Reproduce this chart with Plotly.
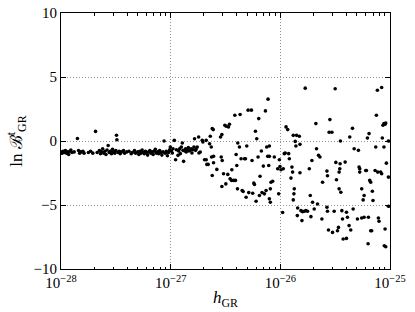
import plotly.graph_objects as go

# log10 of h_GR and ln B values
log10_h_low = [-28.00, -27.99, -27.98, -27.97, -27.96, -27.95, -27.94, -27.93, -27.92, -27.91,
               -27.90, -27.88, -27.85, -27.84, -27.83, -27.82, -27.80, -27.79, -27.75, -27.73,
               -27.71, -27.685, -27.67, -27.65, -27.64, -27.63, -27.62, -27.61, -27.60, -27.59,
               -27.58, -27.57, -27.56, -27.55, -27.54, -27.53, -27.52, -27.51, -27.50, -27.494,
               -27.49, -27.48, -27.47, -27.46, -27.45, -27.43, -27.42, -27.40, -27.38, -27.36,
               -27.35, -27.33, -27.32, -27.30, -27.29, -27.28, -27.27, -27.26, -27.25, -27.24,
               -27.23, -27.22, -27.21, -27.20, -27.19, -27.18, -27.17, -27.16, -27.15, -27.14,
               -27.13, -27.12, -27.11, -27.10, -27.09, -27.08, -27.07, -27.06, -27.05, -27.04,
               -27.03, -27.02]
lnB_low = [-0.85, -0.95, -0.80, -0.90, -0.75, -0.95, -0.85, -1.05, -0.80, -0.70,
           -0.90, -0.85, 0.20, -0.75, -0.95, -0.85, -0.80, -0.95, -0.90, -0.80,
           -0.95, 0.75, -0.90, -0.75, -1.00, -0.85, -0.60, -0.95, -0.80, -1.05,
           -0.70, -0.35, -0.90, -0.80, -1.00, -0.65, -0.85, -0.95, -0.75, 0.45,
           0.10, -0.90, -0.80, -1.00, -0.85, -0.75, -0.95, -0.85, -0.80, -1.00,
           -0.90, -0.75, -0.95, -0.85, -1.05, -0.80, -0.95, -0.70, -0.90, -1.00,
           -0.80, -0.90, -1.10, -0.85, -0.75, -0.95, -0.85, -1.05, -0.80, -0.65,
           -0.95, -0.85, -1.00, -0.75, -0.90, -1.10, -0.85, 0.00, -0.95, -0.80,
           -1.15, -0.90]

log10_h_mid = [-27.024, -27.009, -27.003, -26.994, -26.985, -26.979, -26.967, -26.955, -26.948, -26.933,
               -26.927, -26.918, -26.912, -26.903, -26.894, -26.888, -26.882, -26.870, -26.864, -26.858,
               -26.848, -26.839, -26.833, -26.821, -26.812, -26.806, -26.797, -26.788, -26.782, -26.773,
               -26.767, -26.758, -26.745, -26.742, -26.730, -26.712, -26.706, -26.691, -26.676, -26.676,
               -26.670, -26.658, -26.645, -26.639, -26.630, -26.627, -26.621, -26.612, -26.609, -26.609,
               -26.621, -26.579, -26.545, -26.539, -26.533, -26.530, -26.533, -26.518, -26.506, -26.494,
               -26.497, -26.479, -26.473, -26.464, -26.458, -26.442, -26.445, -26.427, -26.409, -26.415,
               -26.403, -26.397, -26.391, -26.388, -26.373, -26.367, -26.358, -26.348, -26.339, -26.327,
               -26.318, -26.312, -26.306, -26.294, -26.288, -26.264, -26.258, -26.252, -26.242, -26.236,
               -26.227, -26.221, -26.215, -26.203, -26.197, -26.191, -26.185, -26.173, -26.167, -26.155,
               -26.145, -26.136, -26.130, -26.124, -26.115, -26.112, -26.106, -26.100]
lnB_mid = [-0.86, -0.68, -0.47, -0.78, -0.94, -0.60, 0.05, -1.46, -0.68, -1.12,
           -0.78, -0.60, -0.99, -0.47, -0.16, -0.73, -1.59, -0.78, -0.60, -0.86,
           -0.68, -0.52, -0.78, -0.73, -0.60, -0.94, -0.68, -0.47, 0.18, -0.73,
           -0.60, -0.47, 0.31, -0.94, -0.86, 0.05, -0.08, -1.46, -1.46, 0.05,
           -1.83, -1.83, -0.21, 0.37, -0.47, -1.25, 0.97, 0.89, -1.20, -1.70,
           -2.69, -2.22, 0.31, -1.25, 0.50, -1.52, -3.56, -2.56, 1.23, 1.15,
           -3.35, -2.61, 1.10, 1.31, -2.95, -2.25, -3.08, -3.08, -3.08, 2.01,
           -1.05, -1.91, -3.74, -0.16, -0.47, 2.07, -1.39, -3.87, -3.95, -1.39,
           -1.39, -4.39, -0.39, 2.41, -4.03, 2.41, -1.52, -4.08, -3.29, -3.40,
           0.76, -4.71, 0.18, -1.25, 1.75, -4.26, -2.75, -0.78, -4.03, -1.96,
           -4.13, 2.35, -3.87, -0.47, -1.20, 3.27, -1.91, -4.52]

log10_h_high = [-26.100, -26.100, -26.085, -26.091, -26.091, -26.070, -26.055, -26.024, -26.015, -26.009,
                -26.003, -25.994, -25.979, -25.973, -25.964, -25.955, -25.948, -25.933, -25.924, -25.918,
                -25.903, -25.894, -25.888, -25.882, -25.882, -25.876, -25.873, -25.864, -25.858, -25.852,
                -25.845, -25.842, -25.827, -25.821, -25.821, -25.812, -25.803, -25.797, -25.782, -25.773,
                -25.767, -25.752, -25.736, -25.727, -25.721, -25.712, -25.706, -25.691, -25.676, -25.670,
                -25.661, -25.652, -25.639, -25.621, -25.615, -25.570, -25.575, -25.570, -25.575, -25.561,
                -25.555, -25.548, -25.530, -25.524, -25.509, -25.500, -25.494, -25.488, -25.479, -25.470,
                -25.464, -25.464, -25.458, -25.455, -25.452, -25.448, -25.439, -25.433, -25.427, -25.409,
                -25.397, -25.397, -25.388, -25.373, -25.367, -25.358, -25.342, -25.336, -25.327, -25.297,
                -25.288, -25.282, -25.276, -25.276, -25.258, -25.258, -25.245, -25.236, -25.236, -25.221,
                -25.215, -25.206, -25.197, -25.191, -25.185, -25.176, -25.176, -25.167, -25.161, -25.155,
                -25.136, -25.130, -25.124, -25.200, -25.115, -25.112, -25.106, -25.100, -25.085, -25.076,
                -25.076, -25.070, -25.064, -25.055, -25.055, -25.045, -25.045, -25.039, -25.033, -25.052,
                -25.039, -25.015, -25.015, -25.015]
lnB_high = [-0.39, -1.20, -3.22, -3.74, -4.78, -3.14, -1.25, -2.17, -4.13, -1.46,
            -1.99, -2.25, -5.59, -2.17, -0.99, -0.94, 1.10, 0.89, -0.99, -1.39,
            -2.90, -2.04, -2.43, 0.44, -4.60, -4.13, -3.74, -0.03, -0.39, 0.44,
            -5.83, -5.23, 0.37, -2.48, -0.26, -5.44, -6.22, -5.52, -5.49, 4.13,
            -5.44, -5.49, -2.17, -4.26, -5.91, -1.52, -4.78, -5.31, 1.36, -0.60,
            -4.92, -1.12, -1.25, -6.09, -3.22, -2.72, -2.35, -5.49, -5.18, -6.95,
            0.68, 1.67, 0.68, -7.14, -5.49, 4.08, -1.67, -3.03, -7.01, -6.75,
            -3.74, -2.43, -2.17, -1.78, 0.00, -4.00, -5.44, -6.09, -7.66, -1.65,
            -5.57, -7.61, -5.96, -6.61, 0.31, -6.95, 0.99, -5.31, -0.60, -6.09,
            -0.73, -2.04, -2.17, -2.43, -6.01, -3.74, -4.60, -5.96, -4.26, -2.30,
            -2.30, 0.24, -5.96, 0.58, -3.08, -3.22, -7.01, -7.01, -3.92, -4.65,
            -2.30, -0.47, 2.01, -8.03, 3.97, -2.43, -6.01, -6.27, -2.43, -2.56,
            4.18, 0.24, 1.23, -0.47, 1.36, 1.31, -6.88, 1.41, -1.73, -8.18,
            -8.26, -2.82, 0.00, -5.10]

log10_h = log10_h_low + log10_h_mid + log10_h_high
lnB = lnB_low + lnB_mid + lnB_high
h_GR = [10 ** v for v in log10_h]

x_tickvals = [1e-28, 1e-27, 1e-26, 1e-25]
x_ticktext = ["10<sup>\u221228</sup>", "10<sup>\u221227</sup>", "10<sup>\u221226</sup>", "10<sup>\u221225</sup>"]
y_tickvals = [-10, -5, 0, 5, 10]
y_ticktext = ["\u221210", "\u22125", "0", "5", "10"]

font_family = "Liberation Serif, DejaVu Serif, serif"

fig = go.Figure()
fig.add_trace(go.Scatter(
    x=h_GR, y=lnB, mode="markers",
    marker=dict(color="black", size=3.6, line=dict(width=0)),
    showlegend=False, hoverinfo="skip",
))

fig.update_layout(
    width=415, height=312,
    margin=dict(l=61, r=25, t=13, b=43),
    paper_bgcolor="white", plot_bgcolor="white",
    font=dict(family=font_family, size=15, color="black"),
)
fig.update_xaxes(
    type="log", range=[-28, -25], automargin=False, ticklabeloverflow="allow",
    tickvals=x_tickvals, ticktext=x_ticktext,
    ticks="inside", ticklen=5, tickwidth=1, tickcolor="black",
    showline=True, linecolor="black", linewidth=1, mirror="ticks",
    showgrid=True, gridcolor="#909090", griddash="1px,2px", gridwidth=1,
    zeroline=False,
    minor=dict(ticks="inside", ticklen=2.5, tickcolor="black", showgrid=False,
               tickvals=[k * 10.0 ** e for e in (-28, -27, -26) for k in range(2, 10)]),
    tickfont=dict(size=15),
    title=dict(text="<i>h</i><sub>GR</sub>", font=dict(size=17), standoff=1),
)
fig.update_yaxes(
    range=[-10, 10], automargin=False, ticklabeloverflow="allow",
    tickvals=y_tickvals, ticktext=y_ticktext,
    ticks="inside", ticklen=5, tickwidth=1, tickcolor="black",
    showline=True, linecolor="black", linewidth=1, mirror="ticks",
    showgrid=True, gridcolor="#909090", griddash="1px,2px", gridwidth=1,
    zeroline=False,
    tickfont=dict(size=15),
    title=dict(text="ln \u212c<sup>t</sup><sub>GR</sub>", font=dict(size=17), standoff=6),
)

fig.write_html(
    "out.html",
    config={"displayModeBar": False},
    post_script="document.body.style.margin='0';document.body.style.overflow='hidden';",
)
